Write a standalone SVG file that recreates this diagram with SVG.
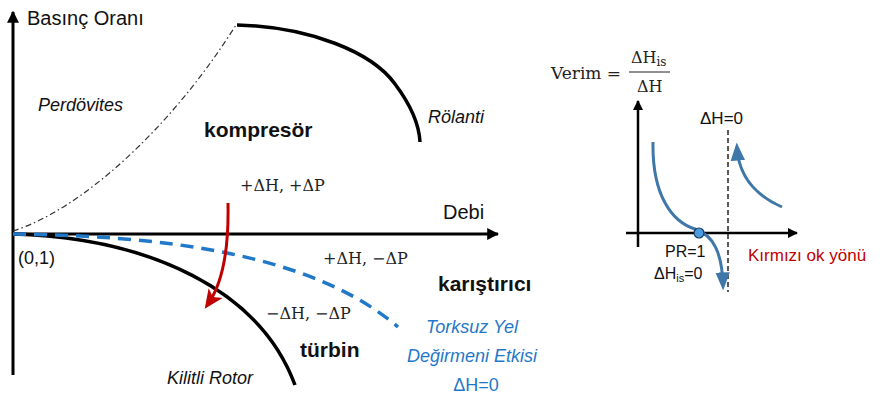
<svg xmlns="http://www.w3.org/2000/svg" width="890" height="398" viewBox="0 0 890 398">
<style>
.sans{font-family:"Liberation Sans",Arial,sans-serif;fill:#111}
.math{font-family:"DejaVu Serif","Liberation Serif",serif;fill:#222}
.it{font-style:italic}
.b{font-weight:bold}
.blue{fill:#1f78c8}
.axis{stroke:#000;stroke-width:3;fill:none}
.axis2{stroke:#000;stroke-width:2.5;fill:none}
</style>
<defs>
<marker id="ah" viewBox="0 0 10 10" refX="9" refY="5" markerWidth="4" markerHeight="4" orient="auto" markerUnits="strokeWidth">
<path d="M0,0 L10,5 L0,10 z" fill="#000"/>
</marker>
<marker id="ahr" viewBox="0 0 10 10" refX="7" refY="5" markerWidth="19" markerHeight="19" orient="auto" markerUnits="userSpaceOnUse">
<path d="M0,0.5 L10,5 L0,9.5 L2.5,5 z" fill="#c00000"/>
</marker>
<marker id="ahb" viewBox="0 0 10 10" refX="7" refY="5" markerWidth="18" markerHeight="18" orient="auto" markerUnits="userSpaceOnUse">
<path d="M0,1 L10,5 L0,9 z" fill="#3f77a9"/>
</marker>
</defs>

<g id="left-axes">
<line class="axis" x1="13" y1="375" x2="13" y2="12" marker-end="url(#ah)"/>
<line class="axis" x1="13" y1="234" x2="498" y2="234" marker-end="url(#ah)"/>
<text class="sans" x="27" y="25" font-size="20">Basınç Oranı</text>
<text class="sans" x="443" y="219" font-size="20">Debi</text>
<text class="sans" x="18" y="264" font-size="18">(0,1)</text>
</g>

<g id="connectors">
<path d="M13,231 C80,210 170,130 236,25" stroke="#333" stroke-width="1.2" fill="none" stroke-dasharray="6,3,1.5,3"/>
<path id="compressor-line" d="M237,25 C310,27 372,52 395,84 C410,104 419,122 420,142" stroke="#000" stroke-width="3.5" fill="none"/>
<path id="turbine-line" d="M13,234 C150,238 260,290 295,385" stroke="#000" stroke-width="3.5" fill="none"/>
<path id="windmill-line" d="M13,234 C160,236 310,252 398,327" stroke="#1f78c8" stroke-width="3.5" fill="none" stroke-dasharray="13,8"/>
<path id="red-arrow" d="M228,203 C229,250 222,284 208,304" stroke="#c00000" stroke-width="3" fill="none" marker-end="url(#ahr)"/>
</g>

<g id="labels">
<text class="sans it" x="38" y="111" font-size="18">Perdövites</text>
<text class="sans it" x="428" y="123" font-size="18">Rölanti</text>
<text class="sans b" x="204" y="137" font-size="21">kompresör</text>
<text class="math" x="240" y="191" font-size="16">+ΔH, +ΔP</text>
<text class="math" x="323" y="264" font-size="16">+ΔH, −ΔP</text>
<text class="sans b" x="438" y="291" font-size="21">karıştırıcı</text>
<text class="math" x="266" y="319" font-size="16">−ΔH, −ΔP</text>
<text class="sans b" x="300" y="357" font-size="21">türbin</text>
<text class="sans it" x="167" y="384" font-size="18">Kilitli Rotor</text>
<text class="sans it blue" x="472" y="333" font-size="18" text-anchor="middle">Torksuz Yel</text>
<text class="sans it blue" x="472" y="362" font-size="18" text-anchor="middle">Değirmeni Etkisi</text>
<text class="sans blue" x="476" y="391" font-size="18" text-anchor="middle">ΔH=0</text>
</g>

<g id="efficiency-chart">
<text class="math" x="551" y="79" font-size="17">Verim =</text>
<text class="math" x="631" y="63" font-size="16">ΔH<tspan font-size="12" dy="3">is</tspan></text>
<line x1="629" y1="72" x2="670" y2="72" stroke="#222" stroke-width="1"/>
<text class="math" x="637" y="92" font-size="16">ΔH</text>
<line class="axis2" x1="638" y1="247" x2="638" y2="101" marker-end="url(#ah)"/>
<line class="axis2" x1="626" y1="233" x2="797" y2="233" marker-end="url(#ah)"/>
<line x1="728" y1="130" x2="728" y2="292" stroke="#000" stroke-width="1.3" stroke-dasharray="5,3"/>
<text class="sans" x="700" y="124" font-size="17">ΔH=0</text>
<path d="M653,142 C652,195 672,222 695,229 C713,235 722,252 723,285" stroke="#3f77a9" stroke-width="3" fill="none" marker-end="url(#ahb)"/>
<path d="M782,207 C757,196 739,178 737,148" stroke="#3f77a9" stroke-width="3" fill="none" marker-end="url(#ahb)"/>
<circle cx="699" cy="233" r="5" fill="#4a9be0" stroke="#1d3a5a" stroke-width="1.2"/>
<text class="sans" x="665" y="257" font-size="16" fill="#222">PR=1</text>
<text class="sans" x="654" y="279" font-size="16" fill="#222">ΔH<tspan font-size="11" dy="3">is</tspan><tspan dy="-3">=0</tspan></text>
<text class="sans" x="748" y="261" font-size="17" style="fill:#c00000">Kırmızı ok yönü</text>
</g>
</svg>
